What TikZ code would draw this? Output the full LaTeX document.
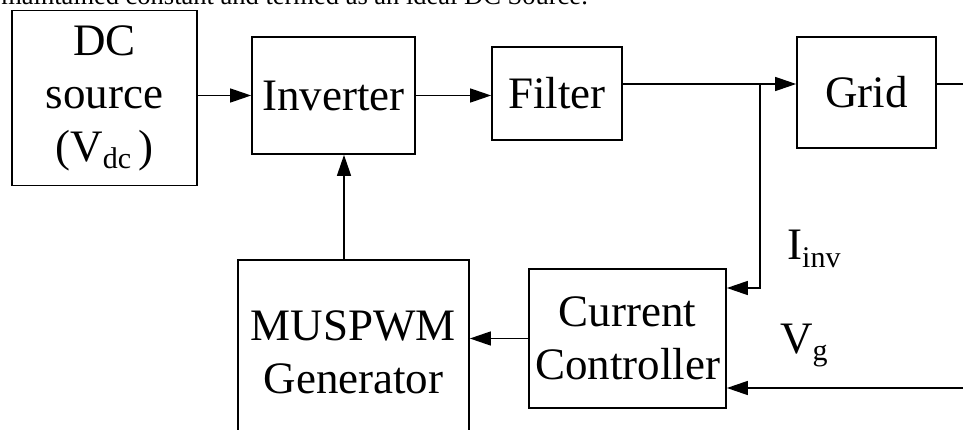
\documentclass[tikz,border=0pt]{standalone}
\usepackage{fontspec}
\setmainfont{Liberation Serif}
\usetikzlibrary{arrows.meta}

% lowered subscript in text size
\newcommand{\lowsub}[1]{\raisebox{-7pt}{\fontsize{30}{30}\selectfont #1}}

\begin{document}
\begin{tikzpicture}[x=1pt,y=-1pt,
  blk/.style={draw, line width=1.7pt, inner sep=0pt, align=center,
    font=\fontsize{45}{53}\selectfont},
  wire/.style={line width=1.4pt},
  arr/.style={wire, -{Triangle[length=21pt,width=14pt]}},
  lbl/.style={inner sep=0pt, font=\fontsize{45}{53}\selectfont}]

\useasboundingbox (0,0) rectangle (963,430);
\fill[white] (0,0) rectangle (963,430);
\clip (0,0) rectangle (963,430);

% running text line above the block diagram
\node[inner sep=0pt, anchor=base east, font=\fontsize{26.5}{30}\selectfont]
  (caption) at (588,5) {maintained constant and termed as an ideal DC Source.};

% blocks
\node[blk, minimum width=185pt, minimum height=175pt] (dc) at (104.5,98)
  {DC\\source\\(V\lowsub{dc}\,)};
\node[blk, minimum width=163pt, minimum height=117pt] (inv) at (333.5,95.5) {Inverter};
\node[blk, minimum width=130pt, minimum height=93pt] (filt) at (557,93.5) {Filter};
\node[blk, minimum width=139pt, minimum height=111pt] (grid) at (866.5,92.5) {Grid};
\node[blk, minimum width=197pt, minimum height=139pt] (cc) at (627.5,338.5)
  {Current\\Controller};
\node[blk, minimum width=231pt, minimum height=185pt] (gen) at (353.5,352.5)
  {MUSPWM\\Generator};

% junction and free ends
\coordinate (j) at (760,84);
\coordinate (jd) at (760,288);
\coordinate (gout) at (965,84);
\coordinate (vin) at (965,388);

% power path
\draw[arr] (dc.east |- inv.west) -- (inv.west);
\draw[arr] (inv.east) -- (inv.east -| filt.west);
\draw[wire] (filt.east |- j) -- (j);
\draw[arr] (j) -- (j -| grid.west);
\draw[wire] (grid.east |- j) -- (gout);

% feedback and control path
\draw[arr] (j) -- (jd) -- (jd -| cc.east);
\draw[arr] (vin) -- (vin -| cc.east);
\draw[arr] (cc.west) -- (cc.west -| gen.east);
\draw[arr] ([xshift=-9.5pt]gen.north) -- ([xshift=-9.5pt]gen.north |- inv.south);

% signal labels
\node[lbl, anchor=base west] (iinv) at (787,260) {I\lowsub{inv}};
\node[lbl, anchor=base west] (vg) at (780,353) {V\lowsub{g}};
\end{tikzpicture}
\end{document}
